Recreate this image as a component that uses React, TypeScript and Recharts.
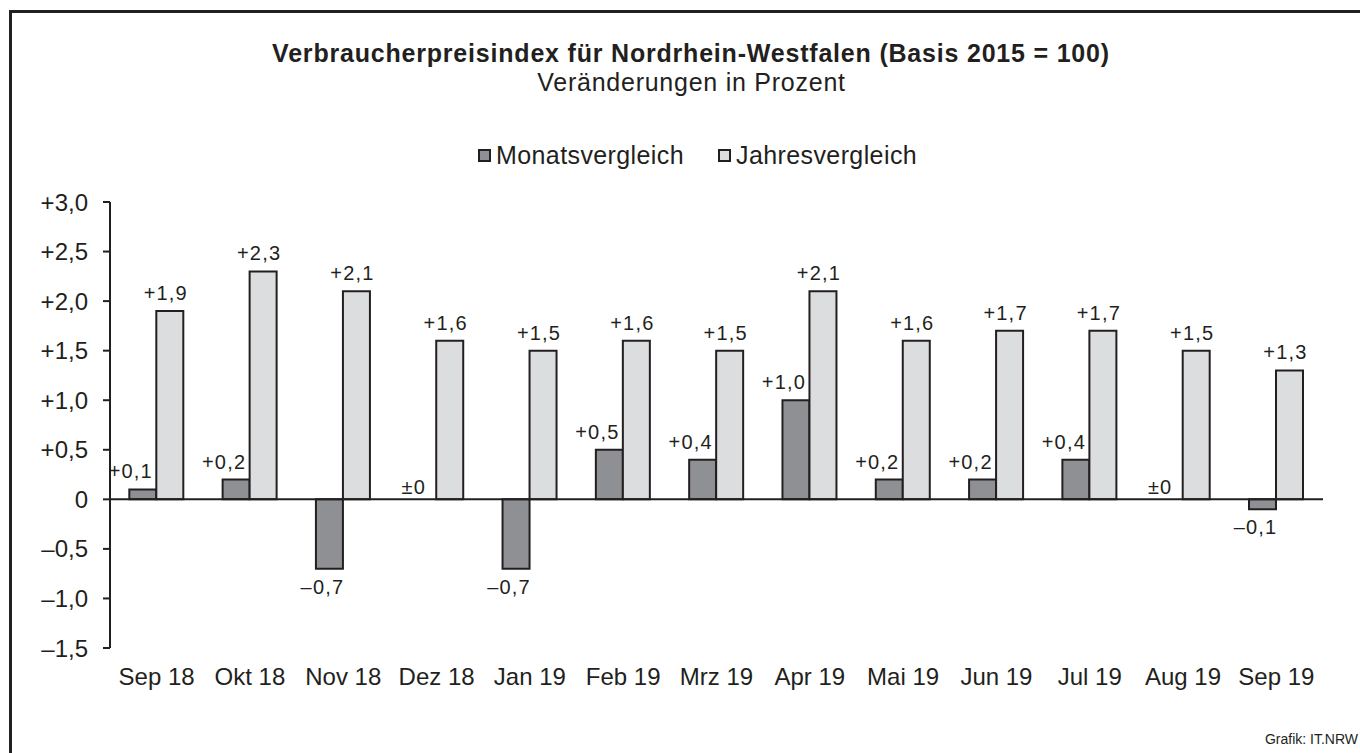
import React from 'react';
import { BarChart, Bar, XAxis, YAxis, ReferenceLine, LabelList } from 'recharts';

const months = ['Sep 18', 'Okt 18', 'Nov 18', 'Dez 18', 'Jan 19', 'Feb 19', 'Mrz 19', 'Apr 19', 'Mai 19', 'Jun 19', 'Jul 19', 'Aug 19', 'Sep 19'];
const monatsvergleich = [0.1, 0.2, -0.7, 0, -0.7, 0.5, 0.4, 1.0, 0.2, 0.2, 0.4, 0, -0.1];
const jahresvergleich = [1.9, 2.3, 2.1, 1.6, 1.5, 1.6, 1.5, 2.1, 1.6, 1.7, 1.7, 1.5, 1.3];
const yTicks = [-1.5, -1, -0.5, 0, 0.5, 1, 1.5, 2, 2.5, 3];

const data = months.map((m, i) => ({
  month: m,
  Monatsvergleich: monatsvergleich[i],
  Jahresvergleich: jahresvergleich[i],
}));

const INK = '#231f20';
const DARK = '#8f9093';
const LIGHT = '#dcdddf';
const FONT = '"Liberation Sans", Arial, sans-serif';

const fmtTick = (v: number) => (v === 0 ? '0' : (v > 0 ? '+' : '–') + Math.abs(v).toFixed(1).replace('.', ','));
const fmtLabel = (v: number) => (v === 0 ? '±0' : (v > 0 ? '+' : '–') + Math.abs(v).toFixed(1).replace('.', ','));

function labelText(x: number, y: number, text: string, key?: string) {
  return (
    <text key={key} x={x} y={y} textAnchor="middle" fontSize={20} letterSpacing={1.2} fill={INK} fontFamily={FONT}>
      {text}
    </text>
  );
}

// labels of the dark bars (zero values are drawn by the light bar label, since empty bars get no label)
const darkLabel = (props: any) => {
  const { x, y, width, height } = props;
  const value = Number(props.value);
  if (value === 0) return null;
  const top = Math.min(y, y + height);
  const bottom = Math.max(y, y + height);
  const cx = x + width / 2;
  if (value < 0) return labelText(cx - 7, bottom + 25, fmtLabel(value));
  return labelText(cx - 12, top - 11, fmtLabel(value));
};

const lightLabel = (props: any) => {
  const { x, y, width, height, index } = props;
  const value = Number(props.value);
  const top = Math.min(y, y + height);
  const bottom = Math.max(y, y + height);
  const cx = x + width / 2;
  const items = [labelText(cx - 4, top - 11, fmtLabel(value), 'l')];
  if (monatsvergleich[index] === 0) {
    items.push(labelText(cx - width - 9, bottom - 5, fmtLabel(0), 'z'));
  }
  return <g>{items}</g>;
};

const legendSquare = (left: number, color: string) => (
  <span style={{ position: 'absolute', left, top: 149, width: 13, height: 13, boxSizing: 'border-box', background: color, border: `2px solid ${INK}` }} />
);

export default function App() {
  return (
    <div style={{ position: 'absolute', left: 0, top: 0, width: 1360, height: 753, overflow: 'hidden', background: '#fff', fontFamily: FONT, color: INK }}>
      <div style={{ position: 'absolute', left: 9, top: 10, width: 1500, height: 900, borderTop: `3px solid ${INK}`, borderLeft: `3px solid ${INK}` }} />
      <div style={{ position: 'absolute', left: 0, top: 41, width: 1382, textAlign: 'center', fontSize: 25, lineHeight: '25px', letterSpacing: 0.8, fontWeight: 'bold' }}>
        Verbraucherpreisindex für Nordrhein-Westfalen (Basis 2015 = 100)
      </div>
      <div style={{ position: 'absolute', left: 0, top: 70, width: 1383, textAlign: 'center', fontSize: 25, lineHeight: '25px', letterSpacing: 0.75 }}>
        Veränderungen in Prozent
      </div>
      {legendSquare(478, DARK)}
      <span style={{ position: 'absolute', left: 496, top: 143, fontSize: 25, lineHeight: '25px', letterSpacing: 0.4 }}>Monatsvergleich</span>
      {legendSquare(718, LIGHT)}
      <span style={{ position: 'absolute', left: 736, top: 143, fontSize: 25, lineHeight: '25px', letterSpacing: 0.4 }}>Jahresvergleich</span>
      <div style={{ position: 'absolute', left: 0, top: 731, width: 1358, textAlign: 'right', fontSize: 14 }}>
        Grafik: IT.NRW
      </div>
      <div style={{ position: 'absolute', left: 0, top: 0 }}>
        <BarChart
          width={1360}
          height={753}
          data={data}
          margin={{ top: 202, right: 37, bottom: 75, left: 0 }}
          barCategoryGap="20.7%"
          barGap={0}
        >
          <XAxis
            dataKey="month"
            axisLine={false}
            tickLine={false}
            height={30}
            tickSize={6}
            tickMargin={14}
            interval={0}
            tick={{ fontSize: 24, fill: INK, fontFamily: FONT }}
          />
          <YAxis
            width={110}
            domain={[-1.5, 3]}
            ticks={yTicks}
            tickFormatter={fmtTick}
            axisLine={{ stroke: INK, strokeWidth: 2 }}
            tickLine={{ stroke: INK, strokeWidth: 2 }}
            tickSize={7}
            tickMargin={15}
            tick={{ fontSize: 24, fill: INK, fontFamily: FONT }}
          />
          <Bar dataKey="Monatsvergleich" fill={DARK} stroke={INK} strokeWidth={2} isAnimationActive={false}>
            <LabelList dataKey="Monatsvergleich" content={darkLabel} />
          </Bar>
          <Bar dataKey="Jahresvergleich" fill={LIGHT} stroke={INK} strokeWidth={2} isAnimationActive={false}>
            <LabelList dataKey="Jahresvergleich" content={lightLabel} />
          </Bar>
          <ReferenceLine y={0} stroke={INK} strokeWidth={2} />
        </BarChart>
      </div>
    </div>
  );
}
